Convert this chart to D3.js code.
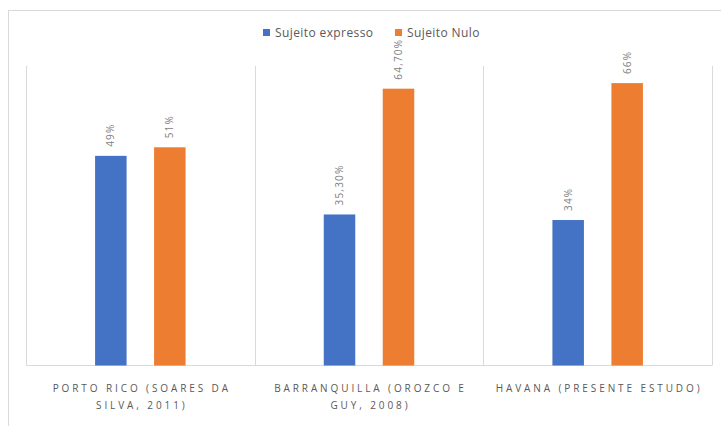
<!DOCTYPE html>
<html><head><meta charset="utf-8">
<script src="https://cdn.jsdelivr.net/npm/d3@7"></script>
<style>body{margin:0;background:#fff}svg{display:block;font-family:"Open Sans",sans-serif}</style>
</head><body>
<script>
const categories = ["PORTO RICO (SOARES DA SILVA, 2011)", "BARRANQUILLA (OROZCO E GUY, 2008)", "HAVANA (PRESENTE ESTUDO)"];
const seriesNames = ["Sujeito expresso", "Sujeito Nulo"];
const expresso = [49, 35.3, 34];
const nulo = [51, 64.7, 66];
const labelsExpresso = ["49%", "35,30%", "34%"];
const labelsNulo = ["51%", "64,70%", "66%"];
const colors = ["#4472C4", "#ED7D31"];

const W = 721, H = 426;
const svg = d3.select("body").append("svg").attr("width", W).attr("height", H);
svg.append("rect").attr("x", 8.5).attr("y", 10.5).attr("width", 800).attr("height", 600)
  .attr("fill", "none").attr("stroke", "#d9d9d9");

const m = {left: 26, right: 712, top: 66, bottom: 365.5};
const x0 = d3.scaleBand().domain(categories).range([m.left, m.right]).padding(0);
const x1 = d3.scaleBand().domain(seriesNames).range([0, x0.bandwidth()]).paddingInner(0.466).paddingOuter(1.171);
const y = d3.scaleLinear().domain([0, 70]).range([m.bottom, m.top]);

// gridlines (category separators)
const seps = categories.map(c => x0(c)).concat([m.right]);
svg.selectAll("line.sep").data(seps).join("line")
  .attr("x1", d => Math.round(d) + 0.5).attr("x2", d => Math.round(d) + 0.5)
  .attr("y1", m.top).attr("y2", m.bottom)
  .attr("stroke", "#d9d9d9").attr("stroke-width", 1);
svg.append("line").attr("x1", m.left).attr("x2", m.right).attr("y1", m.bottom).attr("y2", m.bottom)
  .attr("stroke", "#d9d9d9");

const series = [
  {name: seriesNames[0], values: expresso, labels: labelsExpresso, color: colors[0]},
  {name: seriesNames[1], values: nulo, labels: labelsNulo, color: colors[1]}
];
const g = svg.append("g");
series.forEach(s => {
  categories.forEach((c, i) => {
    const bx = x0(c) + x1(s.name);
    g.append("rect").attr("x", bx).attr("y", y(s.values[i]))
      .attr("width", x1.bandwidth()).attr("height", m.bottom - y(s.values[i]))
      .attr("fill", s.color);
    const cx = bx + x1.bandwidth() / 2;
    const ty = y(s.values[i]) - 9;
    g.append("text").attr("transform", `translate(${cx + 3.5},${ty}) rotate(-90)`)
      .attr("font-size", 10).attr("letter-spacing", 1.2).attr("fill", "#7f7f7f")
      .text(s.labels[i]);
  });
});

// category labels with wrapping
categories.forEach(c => {
  const cx = x0(c) + x0.bandwidth() / 2;
  const words = c.split(" ");
  const t = svg.append("text").attr("text-anchor", "middle").attr("font-size", 10)
    .attr("letter-spacing", 2.9).attr("fill", "#595959");
  let lines = [], cur = [];
  const maxW = 226;
  const tmp = svg.append("text").attr("font-size", 10).attr("letter-spacing", 2.9);
  words.forEach(w => {
    const test = cur.concat([w]).join(" ");
    tmp.text(test);
    if (tmp.node().getComputedTextLength() > maxW && cur.length) { lines.push(cur.join(" ")); cur = [w]; }
    else cur.push(w);
  });
  lines.push(cur.join(" "));
  tmp.remove();
  lines.forEach((l, k) => {
    t.append("tspan").attr("x", cx + 1.5).attr("y", 392 + k * 17).text(l);
  });
});

// legend
const lg = svg.append("g");
const legX = [263, 395];
series.forEach((s, i) => {
  lg.append("rect").attr("x", legX[i]).attr("y", 29).attr("width", 7).attr("height", 7).attr("fill", s.color);
  lg.append("text").attr("x", legX[i] + 12).attr("y", 37).attr("font-size", 12).attr("letter-spacing", 0.4)
    .attr("fill", "#595959").text(s.name);
});
</script>
</body></html>
